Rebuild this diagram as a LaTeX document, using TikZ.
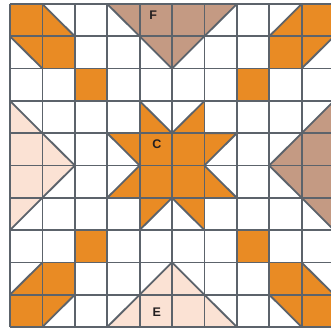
\documentclass[tikz,border=0pt]{standalone}
\usepackage{fontspec}
\setmainfont{Liberation Sans}
\definecolor{qorange}{HTML}{E98B24}
\definecolor{qbrown}{HTML}{C49A83}
\definecolor{qpeach}{HTML}{FBE2D4}
\definecolor{qline}{HTML}{5C636B}
\definecolor{qtext}{HTML}{231F20}
\tikzset{
  patch/.style={draw=qline, line width=1.8pt, line join=miter},
  gridline/.style={draw=qline, line width=1.8pt},
  lbl/.style={font=\fontsize{12.5}{13}\selectfont\bfseries, text=qtext, inner sep=0pt}
}
\begin{document}
\begin{tikzpicture}[x=32.4pt, y=-32.3pt]
\useasboundingbox (-0.3086,-0.1238) rectangle (9.907,10.031);
\clip (-0.3086,-0.1238) rectangle (9.907,10.031);
\fill[white] (-0.3086,-0.1238) rectangle (9.907,10.031);
% orange corner groups
\fill[qorange] (0,0) -- (1,0) -- (2,1) -- (2,2) -- (1,2) -- (0,1) -- cycle;
\fill[qorange] (9,0) -- (10,0) -- (10,1) -- (9,2) -- (8,2) -- (8,1) -- cycle;
\fill[qorange] (1,8) -- (2,8) -- (2,9) -- (1,10) -- (0,10) -- (0,9) -- cycle;
\fill[qorange] (8,8) -- (9,8) -- (10,9) -- (10,10) -- (9,10) -- (8,9) -- cycle;
% orange squares
\fill[qorange] (2,2) rectangle (3,3);
\fill[qorange] (7,2) rectangle (8,3);
\fill[qorange] (2,7) rectangle (3,8);
\fill[qorange] (7,7) rectangle (8,8);
% star
\fill[qorange] (4,3) -- (5,4) -- (6,3) -- (6,4) -- (7,4) -- (6,5) -- (7,6) -- (6,6) -- (6,7) -- (5,6) -- (4,7) -- (4,6) -- (3,6) -- (4,5) -- (3,4) -- (4,4) -- cycle;
% brown and peach triangles
\fill[qbrown] (3,0) -- (7,0) -- (5,2) -- cycle;
\fill[qbrown] (10,3) -- (8,5) -- (10,7) -- cycle;
\fill[qpeach] (0,3) -- (2,5) -- (0,7) -- cycle;
\fill[qpeach] (3,10) -- (5,8) -- (7,10) -- cycle;
% grid
\foreach \i in {0,...,10} {
  \draw[gridline] (\i,0) -- (\i,10);
  \draw[gridline] (0,\i) -- (10,\i);
}
% diagonal seams
\draw[patch] (1,0) -- (2,1) (0,1) -- (1,2);
\draw[patch] (9,0) -- (8,1) (10,1) -- (9,2);
\draw[patch] (1,8) -- (0,9) (2,9) -- (1,10);
\draw[patch] (9,8) -- (10,9) (8,9) -- (9,10);
\draw[patch] (4,3) -- (5,4) -- (6,3) (6,4) -- (7,4) (7,4) -- (6,5) -- (7,6)
  (6,7) -- (5,6) -- (4,7) (3,6) -- (4,5) -- (3,4);
\draw[patch] (3,0) -- (5,2) -- (7,0);
\draw[patch] (10,3) -- (8,5) -- (10,7);
\draw[patch] (0,3) -- (2,5) -- (0,7);
\draw[patch] (3,10) -- (5,8) -- (7,10);
% labels
\node[lbl] (F) at (4.42,0.34) {F};
\node[lbl] (C) at (4.53,4.33) {C};
\node[lbl] (E) at (4.53,9.53) {E};
\end{tikzpicture}
\end{document}
